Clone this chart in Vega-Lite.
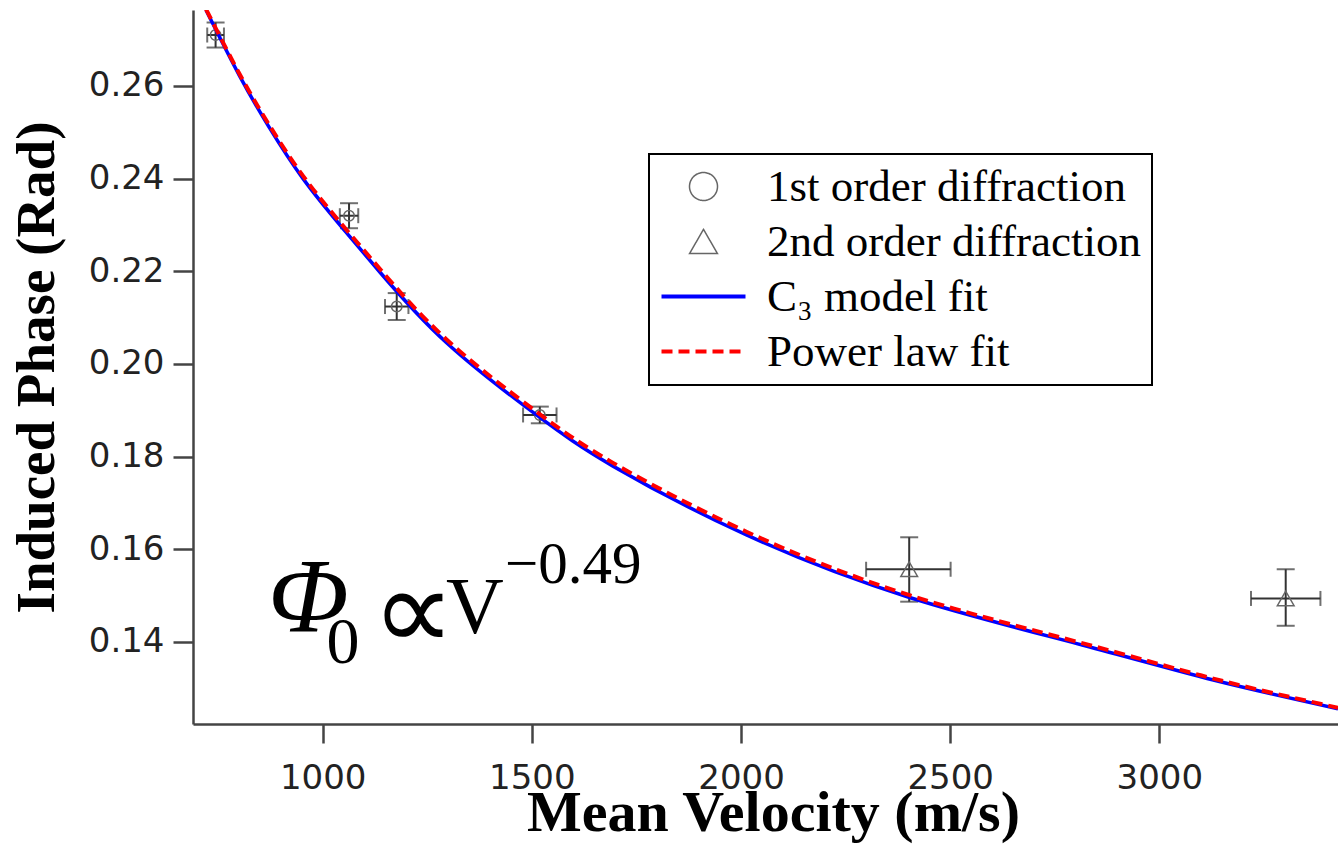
{
  "$schema": "https://vega.github.io/schema/vega-lite/v6.json",
  "autosize": {"type": "none"},
  "width": 1145,
  "height": 714,
  "padding": {"left": 193, "top": 10, "right": 0, "bottom": 120},
  "background": "white",
  "config": {
    "view": {"stroke": null},
    "axis": {
      "grid": false,
      "domainColor": "#444",
      "domainWidth": 2.5,
      "tickColor": "#444",
      "tickWidth": 2.5,
      "tickSize": 19,
      "labelFont": "DejaVu Sans",
      "labelFontSize": 34,
      "labelColor": "#222",
      "titleFont": "Liberation Serif",
      "titleFontWeight": "bold",
      "titleFontSize": 55,
      "titleColor": "#000"
    }
  },
  "datasets": {
    "measurements": [
      {"series": "1st order diffraction", "v": 744, "phase": 0.2710, "v_lo": 724, "v_hi": 764, "phase_lo": 0.2683, "phase_hi": 0.2737},
      {"series": "1st order diffraction", "v": 1063, "phase": 0.2320, "v_lo": 1041, "v_hi": 1085, "phase_lo": 0.2293, "phase_hi": 0.2347},
      {"series": "1st order diffraction", "v": 1177, "phase": 0.2124, "v_lo": 1149, "v_hi": 1205, "phase_lo": 0.2095, "phase_hi": 0.2153},
      {"series": "1st order diffraction", "v": 1519, "phase": 0.1890, "v_lo": 1479, "v_hi": 1559, "phase_lo": 0.1872, "phase_hi": 0.1908},
      {"series": "2nd order diffraction", "v": 2402, "phase": 0.1557, "v_lo": 2299, "v_hi": 2501, "phase_lo": 0.1487, "phase_hi": 0.1626},
      {"series": "2nd order diffraction", "v": 3302, "phase": 0.1494, "v_lo": 3219, "v_hi": 3385, "phase_lo": 0.1435, "phase_hi": 0.1557}
    ],
    "c3fit": [
      {"series": "C₃ model fit", "v": 721, "phase": 0.2764},
      {"series": "C₃ model fit", "v": 800, "phase": 0.2624},
      {"series": "C₃ model fit", "v": 870, "phase": 0.2514},
      {"series": "C₃ model fit", "v": 953, "phase": 0.2400},
      {"series": "C₃ model fit", "v": 1045, "phase": 0.2296},
      {"series": "C₃ model fit", "v": 1137, "phase": 0.2198},
      {"series": "C₃ model fit", "v": 1296, "phase": 0.2046},
      {"series": "C₃ model fit", "v": 1511, "phase": 0.1890},
      {"series": "C₃ model fit", "v": 1695, "phase": 0.1779},
      {"series": "C₃ model fit", "v": 2013, "phase": 0.1631},
      {"series": "C₃ model fit", "v": 2403, "phase": 0.1496},
      {"series": "C₃ model fit", "v": 2818, "phase": 0.1393},
      {"series": "C₃ model fit", "v": 3129, "phase": 0.1318},
      {"series": "C₃ model fit", "v": 3427, "phase": 0.1256}
    ],
    "powerfit": [
      {"series": "Power law fit", "v": 721, "phase": 0.2766},
      {"series": "Power law fit", "v": 800, "phase": 0.2628},
      {"series": "Power law fit", "v": 870, "phase": 0.2519},
      {"series": "Power law fit", "v": 953, "phase": 0.2406},
      {"series": "Power law fit", "v": 1045, "phase": 0.2302},
      {"series": "Power law fit", "v": 1137, "phase": 0.2205},
      {"series": "Power law fit", "v": 1296, "phase": 0.2053},
      {"series": "Power law fit", "v": 1511, "phase": 0.1897},
      {"series": "Power law fit", "v": 1695, "phase": 0.1786},
      {"series": "Power law fit", "v": 2013, "phase": 0.1638},
      {"series": "Power law fit", "v": 2403, "phase": 0.1501},
      {"series": "Power law fit", "v": 2818, "phase": 0.1397},
      {"series": "Power law fit", "v": 3129, "phase": 0.1321},
      {"series": "Power law fit", "v": 3427, "phase": 0.1258}
    ]
  },
  "encoding": {
    "x": {
      "type": "quantitative",
      "scale": {"domain": [690, 3427], "nice": false, "zero": false},
      "axis": {
        "title": "Mean Velocity (m/s)",
        "values": [1000, 1500, 2000, 2500, 3000],
        "format": "d",
        "labelPadding": 18,
        "titleFontSize": 58,
        "titleBaseline": "alphabetic",
        "titleX": 580,
        "titleY": 106
      }
    },
    "y": {
      "type": "quantitative",
      "scale": {"domain": [0.1223, 0.2764], "nice": false, "zero": false},
      "axis": {
        "title": "Induced Phase (Rad)",
        "values": [0.14, 0.16, 0.18, 0.2, 0.22, 0.24, 0.26],
        "format": ".2f",
        "tickSize": 20,
        "labelPadding": 9,
        "titleBaseline": "alphabetic",
        "titleAngle": 270,
        "titleX": -140,
        "titleY": 357
      }
    }
  },
  "layer": [
    {
      "data": {"name": "measurements"},
      "mark": {"type": "rule", "color": "#333", "strokeWidth": 2},
      "encoding": {"x": {"field": "v_lo"}, "x2": {"field": "v_hi"}, "y": {"field": "phase"}}
    },
    {
      "data": {"name": "measurements"},
      "mark": {"type": "rule", "color": "#333", "strokeWidth": 2},
      "encoding": {"x": {"field": "v"}, "y": {"field": "phase_lo"}, "y2": {"field": "phase_hi"}}
    },
    {
      "data": {"name": "measurements"},
      "mark": {"type": "tick", "orient": "vertical", "color": "#333", "size": 15, "thickness": 2},
      "encoding": {"x": {"field": "v_lo"}, "y": {"field": "phase"}}
    },
    {
      "data": {"name": "measurements"},
      "mark": {"type": "tick", "orient": "vertical", "color": "#333", "size": 15, "thickness": 2},
      "encoding": {"x": {"field": "v_hi"}, "y": {"field": "phase"}}
    },
    {
      "data": {"name": "measurements"},
      "mark": {"type": "tick", "orient": "horizontal", "color": "#333", "size": 18, "thickness": 2},
      "encoding": {"x": {"field": "v"}, "y": {"field": "phase_lo"}}
    },
    {
      "data": {"name": "measurements"},
      "mark": {"type": "tick", "orient": "horizontal", "color": "#333", "size": 18, "thickness": 2},
      "encoding": {"x": {"field": "v"}, "y": {"field": "phase_hi"}}
    },
    {
      "data": {"name": "measurements"},
      "mark": {"type": "point", "filled": false, "strokeWidth": 1.5, "opacity": 1},
      "encoding": {
        "x": {"field": "v"},
        "y": {"field": "phase"},
        "shape": {
          "field": "series",
          "type": "nominal",
          "scale": {"domain": ["1st order diffraction", "2nd order diffraction"], "range": ["circle", "triangle-up"]},
          "legend": null
        },
        "size": {
          "field": "series",
          "type": "nominal",
          "scale": {"domain": ["1st order diffraction", "2nd order diffraction"], "range": [110, 280]},
          "legend": null
        },
        "color": {"field": "series", "type": "nominal"}
      }
    },
    {
      "data": {"name": "c3fit"},
      "mark": {"type": "line", "strokeWidth": 3.5, "interpolate": "natural", "clip": true},
      "encoding": {
        "x": {"field": "v"},
        "y": {"field": "phase"},
        "color": {"field": "series", "type": "nominal"}
      }
    },
    {
      "data": {"name": "powerfit"},
      "mark": {"type": "line", "strokeWidth": 4, "strokeDash": [11, 6], "interpolate": "natural", "clip": true},
      "encoding": {
        "x": {"field": "v"},
        "y": {"field": "phase"},
        "color": {
          "field": "series",
          "type": "nominal",
          "scale": {
            "domain": ["1st order diffraction", "2nd order diffraction", "C₃ model fit", "Power law fit"],
            "range": ["#666666", "#666666", "#0000ff", "#ff0000"]
          },
          "legend": {
            "title": null,
            "orient": "none",
            "legendX": 456,
            "legendY": 144,
            "direction": "vertical",
            "padding": 10,
            "strokeColor": "#000",
            "fillColor": "#fff",
            "symbolSize": 784,
            "symbolOffset": 22,
            "labelOffset": 41,
            "rowPadding": 9,
            "labelFont": "Liberation Serif",
            "labelFontSize": 45,
            "labelColor": "#000",
            "labelLimit": 600,
            "encode": {
              "legend": {"update": {"strokeWidth": {"value": 2}}},
              "symbols": {
                "update": {
                  "shape": {"signal": "datum.value === '1st order diffraction' ? 'circle' : datum.value === '2nd order diffraction' ? 'triangle-up' : 'M-3,0H3'"},
                  "stroke": {"signal": "scale('color', datum.value)"},
                  "fill": {"value": "transparent"},
                  "strokeWidth": {"signal": "datum.value === 'C₃ model fit' || datum.value === 'Power law fit' ? 4 : 1.5"},
                  "strokeDash": {"signal": "datum.value === 'Power law fit' ? [11, 6] : [1, 0]"},
                  "opacity": {"value": 1}
                }
              }
            }
          }
        }
      }
    },
    {
      "data": {"values": [{}]},
      "mark": {"type": "text", "font": "Liberation Serif", "fontStyle": "italic", "fontSize": 106, "align": "left", "baseline": "alphabetic", "color": "#000"},
      "encoding": {"x": {"datum": 869}, "y": {"datum": 0.14215}, "text": {"value": "Φ"}}
    },
    {
      "data": {"values": [{}]},
      "mark": {"type": "text", "font": "Liberation Serif", "fontSize": 66, "align": "left", "baseline": "alphabetic", "color": "#000"},
      "encoding": {"x": {"datum": 1009}, "y": {"datum": 0.13546}, "text": {"value": "0"}}
    },
    {
      "data": {"values": [{}]},
      "mark": {"type": "text", "font": "Liberation Serif", "fontSize": 116, "align": "left", "baseline": "alphabetic", "color": "#000"},
      "encoding": {"x": {"datum": 1118}, "y": {"datum": 0.13826}, "text": {"value": "∝"}}
    },
    {
      "data": {"values": [{}]},
      "mark": {"type": "text", "font": "Liberation Serif", "fontSize": 80, "align": "left", "baseline": "alphabetic", "color": "#000"},
      "encoding": {"x": {"datum": 1295}, "y": {"datum": 0.14193}, "text": {"value": "V"}}
    },
    {
      "data": {"values": [{}]},
      "mark": {"type": "text", "font": "Liberation Serif", "fontSize": 59, "align": "left", "baseline": "alphabetic", "color": "#000"},
      "encoding": {"x": {"datum": 1436}, "y": {"datum": 0.15273}, "text": {"value": "−0.49"}}
    }
  ]
}
